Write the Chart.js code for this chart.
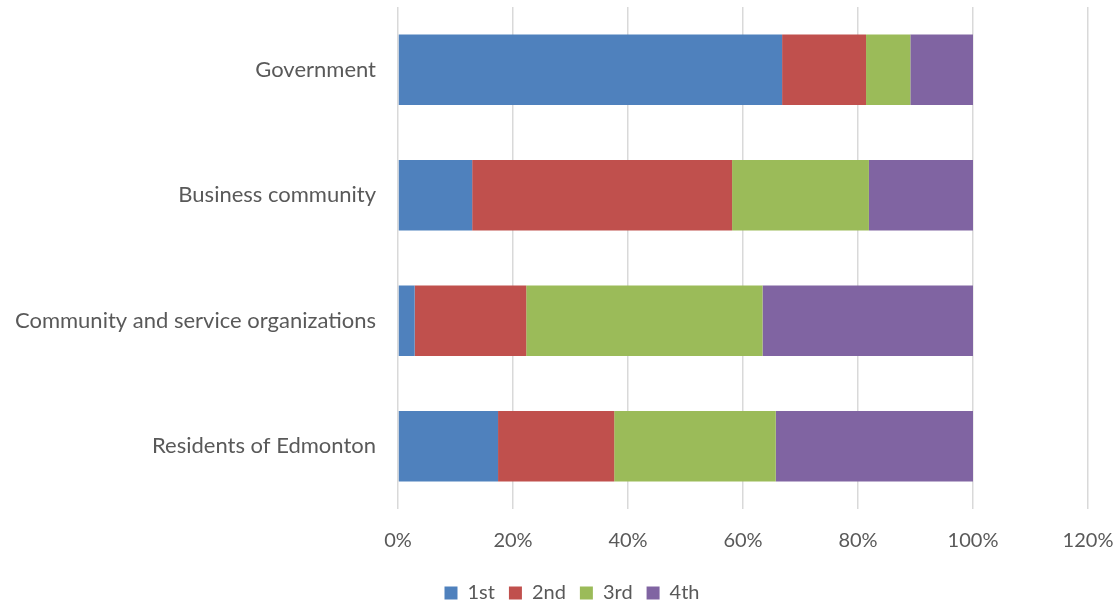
<!DOCTYPE html>
<html>
<head>
<meta charset="utf-8">
<script src="https://cdn.jsdelivr.net/npm/chart.js@4/dist/chart.umd.min.js"></script>
<style>
html,body{margin:0;padding:0;background:#fff;}
#wrap{width:1120px;height:604px;position:relative;}
</style>
</head>
<body>
<div id="wrap"><canvas id="c" width="1120" height="604"></canvas></div>
<script>
const categories = ["Government", "Business community", "Community and service organizations", "Residents of Edmonton"];
const seriesNames = ["1st", "2nd", "3rd", "4th"];
const first  = [66.8, 12.9, 2.9, 17.4];
const second = [14.6, 45.2, 19.4, 20.2];
const third  = [7.7, 23.8, 41.1, 28.1];
const fourth = [10.9, 18.1, 36.6, 34.3];
const tickValues = [0, 20, 40, 60, 80, 100, 120];
const colors = ["#4F81BD", "#C0504D", "#9BBB59", "#8064A2"];

const values = [first, second, third, fourth];
const FONT = "Lato, 'Liberation Sans', Arial, sans-serif";

const legendShift = {
  id: 'legendShift',
  afterUpdate(chart) {
    const lg = chart.legend;
    if (lg) { lg.top += 9; lg.bottom += 9; lg.left += 28; lg.right += 28; }
  }
};

new Chart(document.getElementById('c'), {
  type: 'bar',
  data: {
    labels: categories,
    datasets: seriesNames.map((n, i) => ({
      label: n,
      data: values[i],
      backgroundColor: colors[i],
      borderWidth: 0,
      categoryPercentage: 1,
      barPercentage: 0.56
    }))
  },
  plugins: [legendShift],
  options: {
    indexAxis: 'y',
    responsive: false,
    animation: false,
    layout: { padding: { top: 7, right: 32, left: 0, bottom: 0 } },
    plugins: {
      legend: {
        position: 'bottom',
        labels: {
          font: { family: FONT, size: 20 },
          color: '#595959',
          boxWidth: 13,
          boxHeight: 13,
          padding: 14
        }
      },
      tooltip: { enabled: false }
    },
    scales: {
      x: {
        stacked: true,
        min: 0,
        max: 120,
        afterBuildTicks: s => { s.ticks = tickValues.map(v => ({ value: v })); },
        afterFit: s => { s.paddingLeft = 0; s.paddingRight = 0; s.height = 51; },
        ticks: {
          callback: v => v + '%',
          font: { family: FONT, size: 20 },
          color: '#595959',
          padding: 20
        },
        grid: { color: '#D9D9D9', lineWidth: 1.5, drawTicks: false },
        border: { display: false }
      },
      y: {
        stacked: true,
        afterFit: s => { s.width = 398; s.paddingTop = 0; s.paddingBottom = 0; },
        ticks: {
          font: { family: FONT, size: 22 },
          color: '#595959',
          padding: 14
        },
        grid: { display: false },
        border: { display: false }
      }
    }
  }
});
</script>
</body>
</html>
